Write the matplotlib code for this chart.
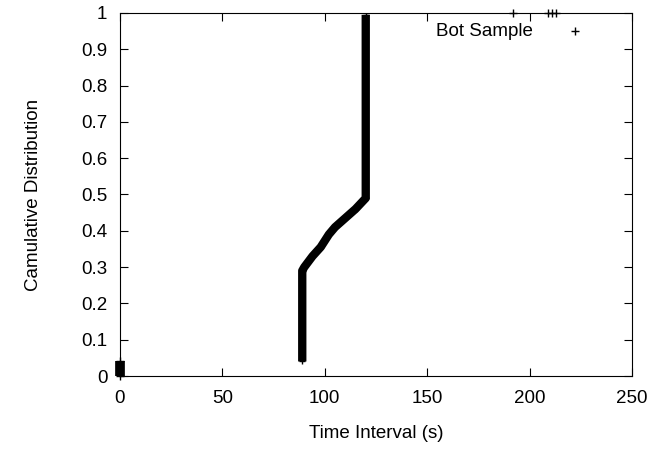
import matplotlib
matplotlib.use('Agg')
import matplotlib.pyplot as plt

plt.rcParams['font.family'] = ['Liberation Sans', 'DejaVu Sans']

# bot sample cdf
cdf_x = [89, 89, 90, 94, 98, 102, 105, 110, 115, 120, 120]
cdf_y = [0.04, 0.29, 0.30, 0.33, 0.355, 0.39, 0.41, 0.435, 0.46, 0.49, 0.995]

zero_x = [0, 0]
zero_y = [0.0, 0.04]

outlier_x = [192, 209, 211, 213]
outlier_y = [1.0, 1.0, 1.0, 1.0]

xticks = [0, 50, 100, 150, 200, 250]
yticks = [0, 0.1, 0.2, 0.3, 0.4, 0.5, 0.6, 0.7, 0.8, 0.9, 1]
ytick_labels = ['0', '0.1', '0.2', '0.3', '0.4', '0.5', '0.6', '0.7', '0.8', '0.9', '1']

fig = plt.figure(figsize=(6.68, 4.54), dpi=100)
ax = fig.add_axes([0.1796, 0.1718, 0.7665, 0.7996])

ax.plot(cdf_x, cdf_y, color='black', lw=6, solid_capstyle='butt')
ax.plot(cdf_x, cdf_y, '+', color='black', ms=5, mew=1)
ax.plot(zero_x, zero_y, color='black', lw=7, solid_capstyle='butt', clip_on=False)
ax.plot(zero_x, zero_y, '+', color='black', ms=6, mew=1, clip_on=False)
ax.plot(outlier_x, outlier_y, '+', color='black', ms=6, mew=1, clip_on=False)

ax.set_xlim(0, 250)
ax.set_ylim(0, 1)
ax.set_xticks(xticks)
ax.set_yticks(yticks)
ax.set_yticklabels(ytick_labels)
ax.tick_params(direction='in', top=True, right=True, length=6, width=0.8,
               labelsize=13.5)
ax.tick_params(axis='x', pad=10)
ax.tick_params(axis='y', pad=9)
for s in ax.spines.values():
    s.set_linewidth(0.8)

ax.set_xlabel('Time Interval (s)', fontsize=13.5, labelpad=13)
ax.set_ylabel('Camulative Distribution', fontsize=13.5, labelpad=28)

# legend like gnuplot: text then marker
ax.text(0.806, 0.95, 'Bot Sample', transform=ax.transAxes, ha='right', va='center', fontsize=13.5)
ax.plot([0.889], [0.95], '+', color='black', ms=6, mew=1, transform=ax.transAxes)

fig.savefig('out.png', dpi=100)
